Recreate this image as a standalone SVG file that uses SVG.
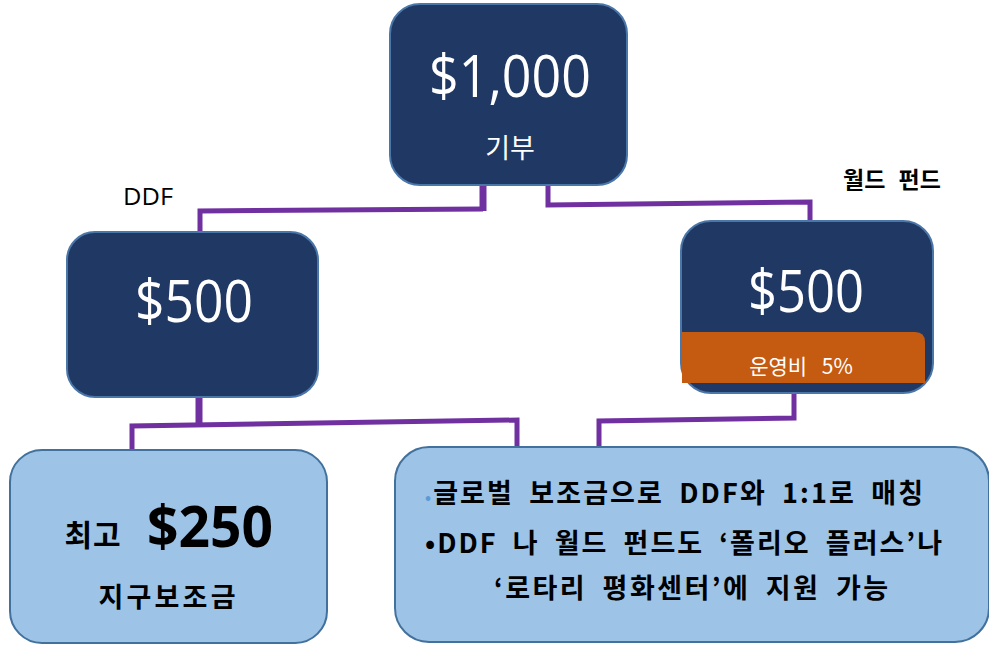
<svg xmlns="http://www.w3.org/2000/svg" width="989" height="647" viewBox="0 0 989 647">
  <style>
    .dark { fill: #203864; stroke: #4A76A8; stroke-width: 2; }
    .light { fill: #9DC3E6; stroke: #41719C; stroke-width: 2; }
    .wnum { fill: #FFFFFF; font-family: "Open Sans", "Noto Sans", sans-serif; text-anchor: middle; }
    .wkr { fill: #FFFFFF; font-family: "Noto Sans CJK KR", sans-serif; text-anchor: middle; }
    .bkr { fill: #000000; font-family: "Noto Sans CJK KR", sans-serif; font-weight: 700; }
    .conn { fill: none; stroke: #7030A0; stroke-width: 5; stroke-linejoin: miter; }
    .stub { fill: none; stroke: #7030A0; stroke-width: 7; }
  </style>
  <rect width="989" height="647" fill="#FFFFFF"/>

  <g id="connectors">
    <polyline class="conn" points="483,209 200,211 200,257"/>
    <line class="stub" x1="483" y1="176" x2="483" y2="211"/>
    <polyline class="conn" points="548,176 548,205 810,202 810,250"/>
    <polyline class="conn" points="132,461 132,426 517,420 517,452"/>
    <line class="stub" x1="199" y1="391" x2="199" y2="426"/>
    <polyline class="conn" points="794,385 794,418 599,421 599,455"/>
  </g>

  <g id="node-donation">
    <rect class="dark" x="390" y="4" width="237" height="181" rx="30"/>
    <text class="wnum" x="510" y="97" font-size="58" textLength="162" lengthAdjust="spacingAndGlyphs">$1,000</text>
    <text class="wkr" x="510" y="158" font-size="27">기부</text>
  </g>

  <g id="label-ddf">
    <text x="148" y="205" font-family="'Open Sans', 'Noto Sans', sans-serif" font-size="23" text-anchor="middle" fill="#000000" textLength="50" lengthAdjust="spacingAndGlyphs">DDF</text>
  </g>

  <g id="label-world-fund">
    <text class="bkr" x="892" y="188" font-size="23" text-anchor="middle" word-spacing="8">월드 펀드</text>
  </g>

  <g id="node-ddf">
    <rect class="dark" x="67" y="232" width="251" height="165" rx="28"/>
    <text class="wnum" x="194" y="322" font-size="58" textLength="118" lengthAdjust="spacingAndGlyphs">$500</text>
  </g>

  <g id="node-world-fund">
    <rect class="dark" x="681" y="221" width="252" height="172" rx="30"/>
    <text class="wnum" x="806" y="312" font-size="58" textLength="116" lengthAdjust="spacingAndGlyphs">$500</text>
    <path d="M682,332 H915 Q925,332 925,342 V383 H682 Z" fill="#C55A11"/>
    <text class="wkr" x="801" y="374" font-size="21" word-spacing="10">운영비 5%</text>
  </g>

  <g id="node-district-grant">
    <rect class="light" x="10" y="450" width="317" height="193" rx="32"/>
    <text class="bkr" x="93" y="546" font-size="30" text-anchor="middle" letter-spacing="1">최고</text>
    <text x="147" y="547" font-family="'Open Sans', 'Liberation Sans', sans-serif" font-weight="700" font-size="58" fill="#000000" textLength="126" lengthAdjust="spacingAndGlyphs">$250</text>
    <text class="bkr" x="167" y="607" font-size="27" text-anchor="middle" textLength="137" lengthAdjust="spacing">지구보조금</text>
  </g>

  <g id="node-global-grant">
    <rect class="light" x="395" y="447" width="594" height="195" rx="34"/>
    <text class="bkr" x="425" y="503" font-size="27" word-spacing="7" textLength="498" lengthAdjust="spacing"><tspan fill="#5B9BD5" font-size="16">•</tspan>글로벌 보조금으로 DDF와 1:1로 매칭</text>
    <text class="bkr" x="425" y="553" font-size="27" word-spacing="7" textLength="517" lengthAdjust="spacing">•DDF 나 월드 펀드도 ‘폴리오 플러스’나</text>
    <text class="bkr" x="494" y="598" font-size="27" word-spacing="7" textLength="394" lengthAdjust="spacing">‘로타리 평화센터’에 지원 가능</text>
  </g>
</svg>
